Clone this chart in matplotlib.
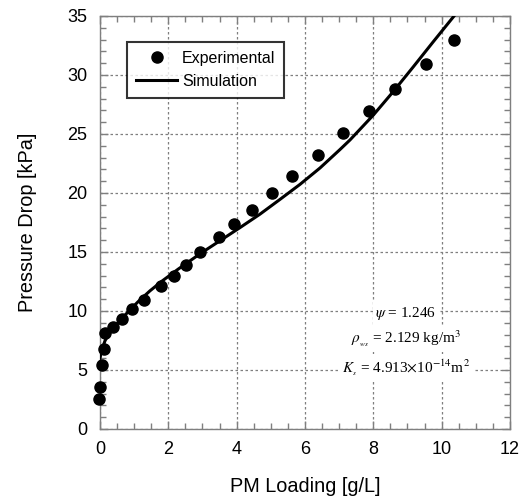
import matplotlib.pyplot as plt
import numpy as np

# experimental points
exp_x = [-0.03, 0.0, 0.06, 0.12, 0.15, 0.39, 0.65, 0.93, 1.30, 1.79, 2.17, 2.52,
         2.93, 3.48, 3.93, 4.44, 5.02, 5.63, 6.37, 7.12, 7.88, 8.64, 9.54, 10.37]
exp_y = [2.55, 3.59, 5.42, 6.82, 8.14, 8.64, 9.35, 10.13, 10.97, 12.10, 13.0, 13.9,
         14.96, 16.26, 17.35, 18.53, 20.02, 21.45, 23.25, 25.1, 26.96, 28.78, 30.92, 32.94]

sim_x = [0.0, 0.05, 0.15, 0.34, 0.59, 0.83, 1.12, 1.46, 1.80, 2.29, 2.93, 3.51,
         4.10, 4.68, 5.27, 5.85, 6.44, 7.02, 7.32, 8.0, 8.58, 9.17, 9.75, 10.42]
sim_y = [6.0, 6.7, 7.5, 8.4, 9.2, 9.95, 10.8, 11.7, 12.5, 13.55, 14.85, 15.95,
         17.07, 18.2, 19.46, 20.72, 22.12, 23.67, 24.5, 26.6, 28.58, 30.69, 32.8, 35.2]

plt.rcParams['font.family'] = ['Liberation Sans', 'DejaVu Sans']
plt.rcParams['mathtext.fontset'] = 'stix'

fig = plt.figure(figsize=(5.23, 4.99), dpi=100)
ax = fig.add_axes([0.1912, 0.1403, 0.7839, 0.8277])

ax.plot(sim_x, sim_y, '-', color='black', lw=2.2, label='Simulation', zorder=3,
        solid_joinstyle='round')
ax.plot(exp_x, exp_y, 'o', color='black', ms=8, label='Experimental', zorder=4,
        clip_on=False)

ax.set_xlim(0, 12)
ax.set_ylim(0, 35)
ax.set_xticks(np.arange(0, 13, 2))
ax.set_yticks(np.arange(0, 36, 5))
ax.set_xticks(np.arange(0, 12.01, 0.5), minor=True)
ax.set_yticks(np.arange(0, 35.01, 1), minor=True)

gray = '#7f7f7f'
for s in ax.spines.values():
    s.set_color(gray)
    s.set_linewidth(1.0)
ax.tick_params(which='both', direction='in', top=True, right=True, color=gray,
               labelsize=13, labelcolor='black')
ax.tick_params(which='major', length=6, width=1)
ax.tick_params(which='minor', length=4, width=1)
ax.tick_params(axis='x', pad=9)
ax.tick_params(axis='y', pad=9)
ax.grid(True, which='major', linestyle=(0, (2, 2)), color=gray, lw=0.9)

ax.set_xlabel('PM Loading [g/L]', fontsize=14.3, labelpad=13)
ax.set_ylabel('Pressure Drop [kPa]', fontsize=14.3, labelpad=22)

h, l = ax.get_legend_handles_labels()
leg = ax.legend([h[1], h[0]], [l[1], l[0]], loc='upper left',
                bbox_to_anchor=(0.066, 0.937), fontsize=11.5, frameon=True,
                fancybox=False, edgecolor='black', handlelength=2.6,
                handletextpad=0.3, borderpad=0.55, labelspacing=0.5,
                borderaxespad=0)
leg.get_frame().set_linewidth(1.5)

# fitted parameters
box = dict(facecolor='white', edgecolor='none', pad=2)
ax.text(8.95, 9.8, r'$\psi$ = 1.246', family='Liberation Serif', fontsize=11,
        ha='center', va='center', bbox=box, zorder=5)
ax.text(8.95, 7.6, r'$\rho_{_{ws}}$ = 2.129 kg/m$^3$', family='Liberation Serif',
        fontsize=11, ha='center', va='center', bbox=box, zorder=5)
ax.text(8.95, 5.2, r'$K_{_s}$ = 4.913$\times$10$^{-14}$m$^2$', family='Liberation Serif',
        fontsize=11, ha='center', va='center', bbox=box, zorder=5)

fig.savefig('out.png', dpi=100)
